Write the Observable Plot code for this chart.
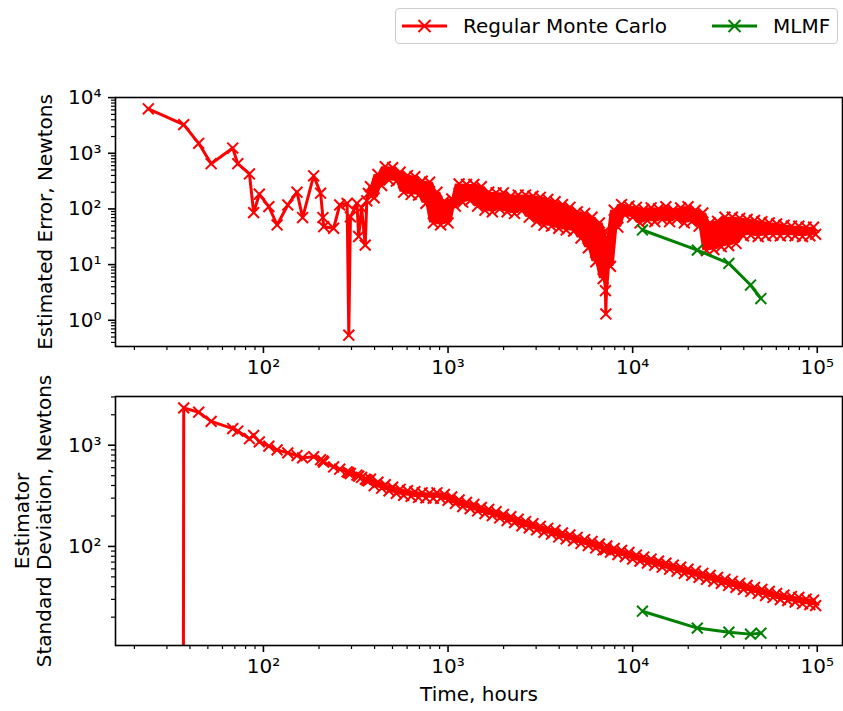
<!DOCTYPE html>
<html><head><meta charset="utf-8">
<script src="https://cdn.jsdelivr.net/npm/d3@7"></script>
<script src="https://cdn.jsdelivr.net/npm/@observablehq/plot@0.6"></script>
<style>
body{margin:0;background:#fff;}
#wrap{position:relative;width:843px;height:711px;font-family:"DejaVu Sans",sans-serif;}
#top,#bot{position:absolute;left:0;}
#top{top:0px;} #bot{top:380px;}
#legend{position:absolute;left:395px;top:8px;width:443px;height:36px;border:1px solid #cccccc;border-radius:4px;background:rgba(255,255,255,0.8);box-sizing:border-box;}
</style></head>
<body><div id="wrap"><div id="top"></div><div id="bot"></div><div id="legend"></div></div>
<script>
// ---------- data ----------
const time = [
 23.8, 37, 44.6, 52.1, 68.2, 72.6, 84, 88.5, 95, 107, 118.6, 135.5, 152, 163, 187, 204, 210, 212, 240, 259, 284, 290, 296, 321, 328, 340, 356, 363, 370,
 380, 398, 417, 437, 457, 479, 501, 525, 550, 575, 603, 631, 661, 692, 724, 759, 794, 832, 871, 912, 955, 1000, 1047, 1096, 1148, 1202, 1259, 1318, 1380, 1445,
 1514, 1585, 1660, 1738, 1820, 1905, 1995, 2089, 2188, 2291, 2399, 2512, 2630, 2754, 2884, 3020, 3162, 3311, 3467, 3631, 3802, 3981, 4169, 4365, 4571, 4786,
 5012, 5248, 5495, 5754, 6026, 6310, 6607, 6918, 7080, 7120, 7160, 7244, 7586, 7943, 8318, 8710, 9120, 9550, 10000, 10470, 10960, 11480, 12020, 12590, 13180,
 13800, 14450, 15140, 15850, 16600, 17380, 18200, 19050, 19950, 20890, 21880, 22910, 23990, 25120, 26300, 27540, 28840, 30200, 31620, 33110, 34670, 36310,
 38020, 39810, 41690, 43650, 45710, 47860, 50120, 52480, 54950, 57540, 60260, 63100, 66070, 69180, 72440, 75860, 79430, 83180, 87100, 91200, 95500, 98000
];
const errorRMC = [
 6300, 3270, 1510, 650, 1240, 650, 425, 86, 184, 110, 51.5, 118, 200, 70, 394, 192, 70, 48, 45, 118, 126, 0.54, 72, 126, 32, 105, 22.4, 140, 190,
 251, 158, 417, 263, 575, 331, 550, 316, 457, 200, 398, 182, 380, 178, 316, 126, 302, 56, 200, 52, 138, 56, 151, 112, 282, 132, 275, 141, 275, 112,
 251, 95, 200, 89, 195, 100, 195, 89, 170, 83, 178, 93, 178, 71, 170, 59, 162, 51, 148, 49, 135, 45, 120, 42, 107,
 40, 89, 30, 83, 20, 71, 11.2, 56, 5.6, 40, 3.4, 1.3, 30, 9.3, 95, 47, 120, 78, 112, 71, 107, 56, 98, 62, 105, 59,
 100, 65, 110, 59, 96, 66, 104, 56, 110, 59, 95, 49, 85, 17.8, 56, 18.6, 60, 21, 71, 22, 71, 24,
 68, 33, 65, 34, 62, 32, 59, 33, 56, 34, 54, 33, 51, 34, 49, 33, 49, 32, 47, 33, 47, 35
];
const stdRMC = [
 0, 2340, 2120, 1720, 1460, 1380, 1160, 1250, 1080, 980, 900, 840, 790, 750, 770, 720, 700, 680, 610, 580, 546, 535, 525, 507, 495, 480, 462, 453, 445,
 462, 398, 432, 376, 407, 355, 385, 335, 367, 320, 355, 313, 347, 305, 339, 302, 335, 299, 339, 299, 327, 285, 309, 266, 288, 248, 272, 237, 260, 224,
 243, 211, 232, 202, 221, 191, 207, 180, 197, 172, 186, 160, 176, 153, 168, 146, 158, 138, 151, 132, 145, 124, 136, 119, 130,
 114, 123, 107, 117, 102, 112, 96.6, 106, 92.3, 97, 93, 95, 101, 88.1, 95.5, 83.2, 91.2, 79.4, 87.1, 75, 82.2, 71.6, 78.5, 68.4, 75, 65.3,
 71.6, 62.4, 68.4, 59.6, 65.3, 56.9, 62.4, 54.3, 59.6, 51.9, 56.9, 49.5, 54.3, 47.3, 51.9, 45.2, 49.5, 43.2, 47.3, 41.2,
 45.2, 39.4, 43.2, 37.6, 41.2, 35.9, 39.4, 34.3, 37.6, 32.7, 35.9, 31.3, 34.3, 29.9, 33.1, 29.2, 32, 28.2, 31.3, 27.2, 30.2, 26.6, 29.5, 26
];
const timeMLMF = [11300, 22400, 33200, 43500, 49500];
const errorMLMF = [41.9, 18.2, 10.5, 4.3, 2.46];
const stdMLMF = [22.9, 15.6, 14.2, 13.6, 13.9];

const seriesNames = ["Regular Monte Carlo", "MLMF"];
const seriesColors = ["#ff0000", "#008000"];

const xTicks = [100, 1000, 10000, 100000];
const xTickLabels = ["10²", "10³", "10⁴", "10⁵"];
const yTicksTop = [1, 10, 100, 1000, 10000];
const yTickLabelsTop = ["10⁰", "10¹", "10²", "10³", "10⁴"];
const yTicksBottom = [100, 1000];
const yTickLabelsBottom = ["10²", "10³"];
const xLabel = "Time, hours";
const yLabelTop = "Estimated Error, Newtons";
const yLabelBottom = "Estimator\nStandard Deviation, Newtons";

// ---------- tables ----------
const rmc = time.map((t, i) => ({t, err: errorRMC[i], std: stdRMC[i]}));
const mlmf = timeMLMF.map((t, i) => ({t, err: errorMLMF[i], std: stdMLMF[i]}));
// dense part of the Monte Carlo run: the overlapping zig-zag fills a solid band
const dense = rmc.filter(d => d.t >= 370);
const bandOf = key => dense.map((d, i, a) => {
  const vs = [a[i - 1], d, a[i + 1]].filter(Boolean).map(e => e[key]);
  return {t: d.t, lo: Math.min(...vs), hi: Math.max(...vs)};
});

const minorOf = (decades, max, min) => decades.flatMap(d => [2,3,4,5,6,7,8,9].map(m => m * d)).filter(v => v <= max && v >= min);
const xDomain = [15.8, 137000];
const yDomainTop = [0.338, 10050];
const yDomainBottom = [10.5, 3030];
const xMinor = minorOf([10, 100, 1000, 10000, 100000], xDomain[1], xDomain[0]);
const yMinorTop = minorOf([0.1, 1, 10, 100, 1000], yDomainTop[1], yDomainTop[0]);
const yMinorBottom = minorOf([10, 100, 1000], yDomainBottom[1], yDomainBottom[0]);
const fmt = (ticks, labels) => d => labels[ticks.indexOf(d)];
const pos = v => (v > 0 ? v : 1e-300); // log-scale clipping of non-positive values

const FONT = "DejaVu Sans";
const common = {
  width: 843, marginLeft: 115, marginRight: 1,
  style: {fontFamily: FONT, fontSize: "20px", background: "transparent", color: "black", overflow: "visible"}
};

function seriesMarks(key) {
  return [
    Plot.areaY(bandOf(key), {x: "t", y1: "lo", y2: "hi", fill: seriesColors[0], clip: true}),
    Plot.line(rmc, {x: "t", y: d => pos(d[key]), stroke: seriesColors[0], strokeWidth: 3, clip: true}),
    Plot.dot(rmc, {x: "t", y: d => pos(d[key]), symbol: "times", r: 5, stroke: seriesColors[0], strokeWidth: 2, fill: "none", clip: true}),
    Plot.line(mlmf, {x: "t", y: key, stroke: seriesColors[1], strokeWidth: 3, clip: true}),
    Plot.dot(mlmf, {x: "t", y: key, symbol: "times", r: 5, stroke: seriesColors[1], strokeWidth: 2, fill: "none", clip: true})
  ];
}
function axes(yTicks, yLabels, yMinor) {
  return [
    Plot.frame({stroke: "black", strokeWidth: 1.6}),
    Plot.axisX(xMinor, {tickSize: 4, strokeWidth: 1.2, tickFormat: () => "", label: null}),
    Plot.axisX(xTicks, {tickSize: 7, strokeWidth: 1.6, tickPadding: 6, tickFormat: fmt(xTicks, xTickLabels), label: null, fontSize: 20}),
    Plot.axisY(yMinor, {tickSize: 4, strokeWidth: 1.2, tickFormat: () => "", label: null}),
    Plot.axisY(yTicks, {tickSize: 7, strokeWidth: 1.6, tickPadding: 7, tickFormat: fmt(yTicks, yLabels), label: null, fontSize: 20})
  ];
}

const topPlot = Plot.plot({
  ...common, height: 380, marginTop: 97, marginBottom: 34,
  x: {type: "log", domain: xDomain},
  y: {type: "log", domain: yDomainTop},
  marks: [
    ...seriesMarks("err"),
    ...axes(yTicksTop, yTickLabelsTop, yMinorTop),
    Plot.text([yLabelTop], {text: d => d, frameAnchor: "left", textAnchor: "middle", rotate: -90, dx: -70, fontSize: 20})
  ]
});
const bottomPlot = Plot.plot({
  ...common, height: 331, marginTop: 16, marginBottom: 66,
  x: {type: "log", domain: xDomain},
  y: {type: "log", domain: yDomainBottom},
  marks: [
    ...seriesMarks("std"),
    ...axes(yTicksBottom, yTickLabelsBottom, yMinorBottom),
    Plot.text([yLabelBottom], {text: d => d, frameAnchor: "left", textAnchor: "middle", rotate: -90, dx: -83, lineHeight: 1.1, fontSize: 20}),
    Plot.text([xLabel], {text: d => d, frameAnchor: "bottom", dy: 55, fontSize: 20})
  ]
});
document.getElementById("top").appendChild(topPlot);
document.getElementById("bot").appendChild(bottomPlot);

// ---------- legend ----------
const lg = d3.select("#legend").append("svg").attr("width", 441).attr("height", 34)
  .style("font-family", FONT).style("font-size", "20px");
const legendX = [6, 316];
seriesNames.forEach((name, i) => {
  const x0 = legendX[i], cy = 17, cx = x0 + 22.5, r = 6;
  lg.append("line").attr("x1", x0).attr("x2", x0 + 45).attr("y1", cy).attr("y2", cy)
    .attr("stroke", seriesColors[i]).attr("stroke-width", 3);
  lg.append("path").attr("d", `M${cx-r},${cy-r}L${cx+r},${cy+r}M${cx-r},${cy+r}L${cx+r},${cy-r}`)
    .attr("stroke", seriesColors[i]).attr("stroke-width", 2).attr("fill", "none");
  lg.append("text").attr("x", x0 + 61).attr("y", cy).attr("dy", "0.36em").attr("fill", "black").text(name);
});
</script></body></html>
